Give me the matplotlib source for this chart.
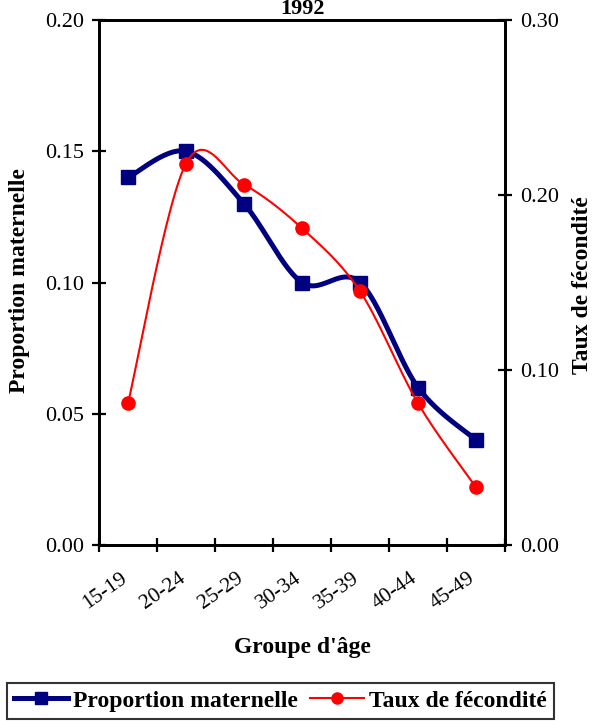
import numpy as np
import matplotlib
matplotlib.use("Agg")
import matplotlib.pyplot as plt
from matplotlib.lines import Line2D

categories = ["15-19", "20-24", "25-29", "30-34", "35-39", "40-44", "45-49"]
proportion = [0.14, 0.15, 0.13, 0.10, 0.10, 0.06, 0.04]
fecondite = [0.081, 0.218, 0.206, 0.181, 0.145, 0.081, 0.033]

plt.rcParams['font.family'] = ['Liberation Serif', 'DejaVu Serif']

def smooth(xs, ys, n=30):
    xs = np.asarray(xs, float); ys = np.asarray(ys, float)
    px = np.concatenate([[xs[0]], xs, [xs[-1]]])
    py = np.concatenate([[ys[0]], ys, [ys[-1]]])
    ox, oy = [], []
    for i in range(1, len(px) - 2):
        p0x, p1x, p2x, p3x = px[i-1], px[i], px[i+1], px[i+2]
        p0y, p1y, p2y, p3y = py[i-1], py[i], py[i+1], py[i+2]
        c1x = p1x + (p2x - p0x) / 6; c1y = p1y + (p2y - p0y) / 6
        c2x = p2x - (p3x - p1x) / 6; c2y = p2y - (p3y - p1y) / 6
        t = np.linspace(0, 1, n)
        bx = (1-t)**3*p1x + 3*(1-t)**2*t*c1x + 3*(1-t)*t**2*c2x + t**3*p2x
        by = (1-t)**3*p1y + 3*(1-t)**2*t*c1y + 3*(1-t)*t**2*c2y + t**3*p2y
        ox.extend(bx); oy.extend(by)
    return np.array(ox), np.array(oy)

W, H = 594, 721
fig = plt.figure(figsize=(W/100, H/100), dpi=100)
ax = fig.add_axes([99/W, 1 - 545/H, (505-99)/W, (545-20)/H])
ax2 = ax.twinx()

x = np.arange(len(categories)) + 0.5
blue = '#000080'
red = '#FF0000'

sx, sy = smooth(x, proportion)
ax.plot(sx, sy, color=blue, lw=3.6, solid_capstyle='round', zorder=2)
ax.plot(x, proportion, ls='none', marker='s', ms=10.5, color=blue, zorder=3)

rx, ry = smooth(x, fecondite)
ax2.plot(rx, ry, color=red, lw=1.5, zorder=2)
ax2.plot(x, fecondite, ls='none', marker='o', ms=9.5, color=red, zorder=3)

ax.set_xlim(0, len(categories))
ax.set_ylim(0, 0.20)
ax2.set_ylim(0, 0.30)
ax.set_yticks([0, 0.05, 0.10, 0.15, 0.20])
ax.set_yticklabels(["0.00", "0.05", "0.10", "0.15", "0.20"])
ax2.set_yticks([0, 0.10, 0.20, 0.30])
ax2.set_yticklabels(["0.00", "0.10", "0.20", "0.30"])
ax.set_xticks(np.arange(len(categories) + 1))
ax.set_xticklabels([])
for i, c in enumerate(categories):
    ax.annotate(c, xy=(x[i], 0), xycoords=('data', 'axes fraction'),
                xytext=(-6, -17), textcoords='offset points',
                rotation=35, ha='right', va='top', rotation_mode='anchor',
                fontsize=15.5, annotation_clip=False)

for a in (ax, ax2):
    for s in a.spines.values():
        s.set_linewidth(2)
    a.tick_params(direction='inout', length=10, width=1.6, labelsize=16, pad=6)

fig.text(302/W, 1 - 648/H, "Groupe d'âge", fontsize=17, fontweight='bold',
         ha='center', va='center')
fig.text(20/W, 1 - 281/H, "Proportion maternelle", fontsize=17, fontweight='bold',
         rotation=90, ha='center', va='center')
fig.text(583/W, 1 - 285/H, "Taux de fécondité", fontsize=17, fontweight='bold',
         rotation=90, ha='center', va='center')
fig.text(302/W, 1 - 14/H, "1992", fontsize=16, fontweight='bold',
         ha='center', va='baseline')

h1 = Line2D([], [], color=blue, lw=3.6, marker='s', ms=9)
h2 = Line2D([], [], color=red, lw=1.5, marker='o', ms=8)
leg = fig.legend([h1, h2], ["Proportion maternelle", "Taux de fécondité"],
                 loc='upper left', bbox_to_anchor=(7/W, 1 - 683/H),
                 ncol=2, frameon=True, fancybox=False,
                 prop={'weight': 'bold', 'size': 17}, handlelength=2.3,
                 handletextpad=0.2, columnspacing=0.5, borderpad=0.3,
                 borderaxespad=0)
leg.get_frame().set_edgecolor('black')
leg.get_frame().set_linewidth(1.5)

fig.savefig("out.png", dpi=100)
